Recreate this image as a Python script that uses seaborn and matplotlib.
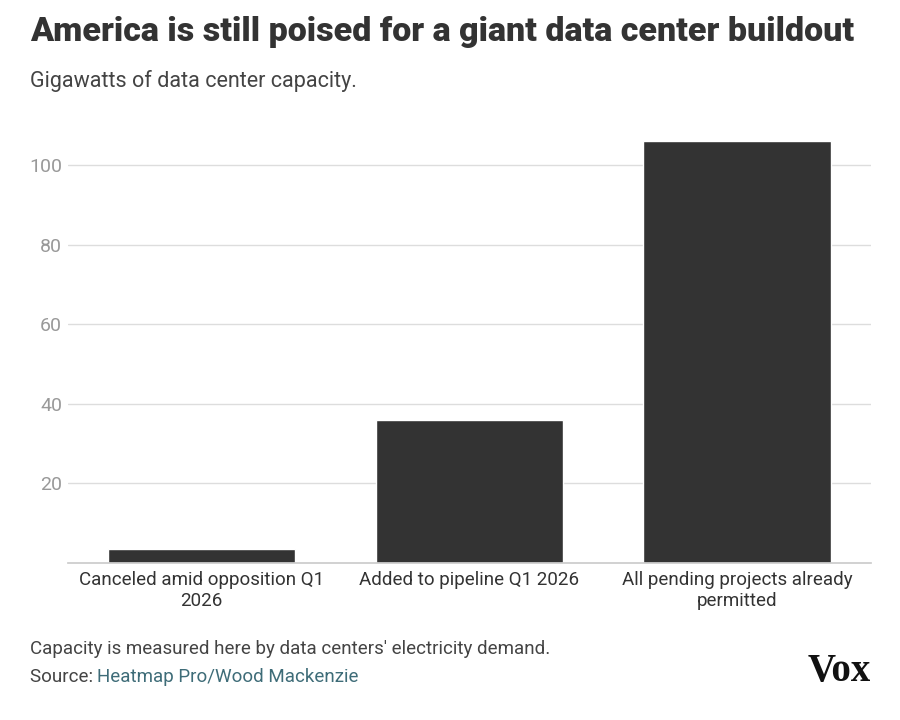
import matplotlib
matplotlib.use("Agg")
import matplotlib.pyplot as plt
import seaborn as sns
import pandas as pd

categories = ["Canceled amid opposition Q1\n2026", "Added to pipeline Q1 2026", "All pending projects already\npermitted"]
values = [3.5, 36, 106]
yticks = [20, 40, 60, 80, 100]

sns.set_theme(style="white")
plt.rcParams['font.family'] = ['Roboto', 'DejaVu Sans']

df = pd.DataFrame({"cat": categories, "val": values})
fig = plt.figure(figsize=(9, 7.2), dpi=100)
ax = fig.add_axes([0.075, 0.218, 0.893, 0.6])
sns.barplot(data=df, x="cat", y="val", color="#333333", saturation=1, width=0.7, ax=ax)
ax.set_ylim(0, 108.5)
ax.set_xlim(-0.5, 2.5)
ax.set_yticks(yticks)
ax.set_yticklabels([str(t) for t in yticks], color="#999999", fontsize=14)
ax.yaxis.grid(True, color="#dddddd", linewidth=1)
ax.set_axisbelow(True)
ax.set_xlabel("")
ax.set_ylabel("")
ax.tick_params(axis="x", labelsize=13.5, colors="#333333", length=0, pad=6)
ax.tick_params(axis="y", length=0, pad=4)
for s in ["top", "right", "left"]:
    ax.spines[s].set_visible(False)
ax.spines["bottom"].set_color("#cccccc")

fig.text(0.033, 0.955, "America is still poised for a giant data center buildout",
         fontsize=24.5, fontweight="black", color="#333333", va="center")
fig.text(0.033, 0.888, "Gigawatts of data center capacity.", fontsize=15.5, color="#444444", va="center")
fig.text(0.033, 0.098, "Capacity is measured here by data centers' electricity demand.",
         fontsize=13.5, color="#444444", va="center")
fig.text(0.033, 0.060, "Source: ", fontsize=13.5, color="#444444", va="center")
fig.text(0.108, 0.060, "Heatmap Pro/Wood Mackenzie", fontsize=13.5, color="#3e6c78", va="center")
fig.text(0.968, 0.068, "Vox", fontsize=28, fontweight="bold", family="Liberation Serif",
         color="#111111", ha="right", va="center")

fig.savefig("out.png", dpi=100, facecolor="white")
